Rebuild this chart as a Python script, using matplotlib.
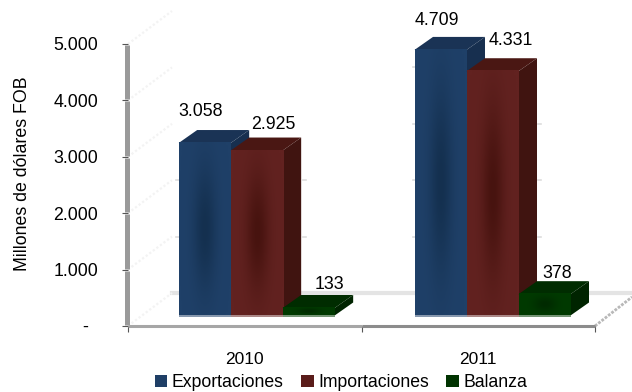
import numpy as np
import matplotlib
matplotlib.use('Agg')
import matplotlib.pyplot as plt
from matplotlib.colors import LinearSegmentedColormap
from matplotlib.patches import Patch, Polygon

plt.rcParams['font.family'] = ['Liberation Sans', 'DejaVu Sans']

years = ['2010', '2011']
exportaciones = [3058, 4709]
importaciones = [2925, 4331]
balanza = [133, 378]
etiquetas_exp = ['3.058', '4.709']
etiquetas_imp = ['2.925', '4.331']
etiquetas_bal = ['133', '378']
yticks = [0, 1000, 2000, 3000, 4000, 5000]
ytick_labels = ['-  ', '1.000', '2.000', '3.000', '4.000', '5.000']

fig = plt.figure(figsize=(6.32, 3.92), dpi=100)
ax = fig.add_axes([128/632, 66/392, 467/632, 282/392])
ax.set_xlim(-0.5, 1.5)
ax.set_ylim(0, 5000)

# scale of the axes, used for the fake 3d depth
px_x = 2.0/467
px_y = 5000/282
bar_w = 52*px_x
dep_x = 18.5*px_x
dep_y = 13*px_y
base = 10.5*px_y
group_left = [-0.283, 0.727]


def bar3d(x0, val, edge, mid, side, top, z):
    x1 = x0+bar_w
    y0 = base
    y1 = base+val
    ax.add_patch(Polygon([[x0, y1], [x1, y1], [x1+dep_x, y1+dep_y], [x0+dep_x, y1+dep_y]],
                         fc=top, ec='none', zorder=z, clip_on=False))
    ax.add_patch(Polygon([[x1, y0], [x1+dep_x, y0+dep_y], [x1+dep_x, y1+dep_y], [x1, y1]],
                         fc=side, ec='none', zorder=z, clip_on=False))
    # front face, darker in the middle
    u, v = np.meshgrid(np.linspace(0, 1, 40), np.linspace(0, 1, 80))
    shade = np.exp(-((u-0.5)/0.22)**2)*np.exp(-((v-0.5)/0.35)**2)
    cmap = LinearSegmentedColormap.from_list('f', [edge, mid])
    ax.imshow(shade, extent=[x0, x1, y0, y1], origin='lower', aspect='auto', cmap=cmap,
              vmin=0, vmax=1, zorder=z+0.1, clip_on=False)
    # light strip along the base
    light = tuple(0.55*c+0.45 for c in matplotlib.colors.to_rgb(edge))
    ax.plot([x0, x1], [y0, y0], color=light, lw=1.4, zorder=z+0.2, solid_capstyle='butt', clip_on=False)


# back wall and floor
ax.plot([-0.5+44*px_x, 1.5+37*px_x], [33*px_y, 33*px_y], color='#e4e4e4', lw=3, zorder=1, clip_on=False)
ax.plot([1.5, 1.5+37*px_x], [0, 29*px_y], color='#b8b8b8', lw=2, ls=(0, (1, 0.5)), zorder=1, clip_on=False)
for t in yticks:
    ax.plot([-0.5, -0.5+44*px_x], [t, t+33*px_y], color='#f3f3f3', lw=1.6, ls=(0, (1, 1)), zorder=1, clip_on=False)
    if t > 0:
        # short stubs of the white grid next to the bars, only where a bar stands
        wall = t+33*px_y
        if wall < exportaciones[0]:
            ax.plot([-0.5+48*px_x, -0.5+51*px_x], [wall, wall], color='#dddddd', lw=1.2, zorder=1)
        if wall < importaciones[0]:
            ax.plot([-0.5+175*px_x, -0.5+178*px_x], [wall, wall], color='#dddddd', lw=1.2, zorder=1)
        if wall < exportaciones[1]:
            ax.plot([-0.5+285*px_x, -0.5+288*px_x], [wall, wall], color='#dddddd', lw=1.2, zorder=1)
        if wall < importaciones[1]:
            ax.plot([-0.5+410*px_x, -0.5+413*px_x], [wall, wall], color='#dddddd', lw=1.2, zorder=1)

for i in range(2):
    x = group_left[i]
    bar3d(x, exportaciones[i], '#1F4068', '#14304F', '#172F4F', '#1A3355', 2)
    bar3d(x+bar_w, importaciones[i], '#622220', '#47130F', '#401410', '#4A1713', 3)
    bar3d(x+2*bar_w, balanza[i], '#003A00', '#002A00', '#002400', '#002C00', 4)

# data labels
for i in range(2):
    x = group_left[i]
    ax.text(x+22*px_x, base+exportaciones[i]+(23 if i == 0 else 21)*px_y, etiquetas_exp[i], ha='center', va='bottom', fontsize=12.8, zorder=6)
    ax.text(x+bar_w+(43 if i == 0 else 44)*px_x, base+importaciones[i]+(18 if i == 0 else 22)*px_y, etiquetas_imp[i],
            ha='center', va='bottom', fontsize=12.8, zorder=6)
    ax.text(x+2*bar_w+(47 if i == 0 else 39)*px_x, base+balanza[i]+(15 if i == 0 else 12)*px_y, etiquetas_bal[i],
            ha='center', va='bottom', fontsize=12.8, zorder=6)

# axes
for s in ax.spines.values():
    s.set_visible(False)
for a, b in zip(yticks[:-1], yticks[1:]):
    ax.plot([-0.5-1*px_x, -0.5-1*px_x], [a+1*px_y, b-1*px_y], color='#9a9a9a', lw=3.6, solid_capstyle='butt', zorder=5, clip_on=False)
ax.plot([-0.5, 0.5], [0, 0], color='#a6a6a6', lw=2.2, solid_capstyle='butt', zorder=5, clip_on=False)
ax.plot([0.5, 1.5], [0, 0], color='#8c8c8c', lw=2.2, solid_capstyle='butt', zorder=5, clip_on=False)

ax.set_yticks(yticks)
ax.set_yticklabels(ytick_labels, fontsize=12.8)
ax.tick_params(axis='y', length=4.5, width=0.8, color='#555555', pad=17)
ax.set_xticks([-0.5, 0.5, 1.5], minor=True)
ax.set_xticks([0, 1])
ax.set_xticklabels(years, fontsize=12.5)
ax.tick_params(axis='x', which='major', length=0, pad=19)
ax.tick_params(axis='x', which='minor', length=4, width=0.8, color='#555555')
ax.set_ylabel('Millones de dólares FOB', fontsize=12.8)
ax.yaxis.set_label_coords(-97/467, 0.54)

handles = [Patch(fc='#1F3F66', label='Exportaciones'), Patch(fc='#5A1C1A', label='Importaciones'), Patch(fc='#003300', label='Balanza')]
ax.legend(handles=handles, ncol=3, frameon=False, fontsize=12.7, loc='center', bbox_to_anchor=(0.456, -0.202),
          handlelength=0.7, handleheight=0.7, handletextpad=0.25, columnspacing=1.0, borderpad=0, borderaxespad=0)
ax.set_xlim(-0.5, 1.5)
ax.set_ylim(0, 5000)

fig.savefig('out.png', dpi=100)
